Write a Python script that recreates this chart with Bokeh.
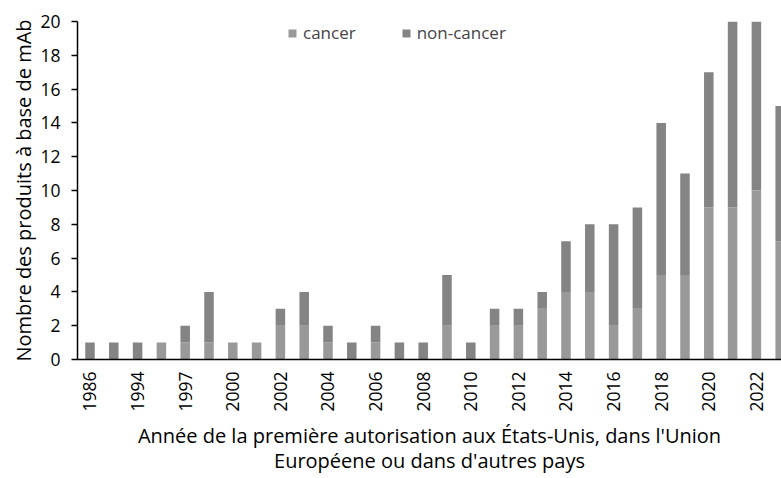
import math
from bokeh.plotting import figure
from bokeh.models import ColumnDataSource, FixedTicker, Range1d, Legend, LegendItem
from bokeh.embed import file_html
from bokeh.resources import INLINE

years = ["1986", "1991", "1994", "1995", "1997", "1998", "2000", "2001", "2002", "2003",
         "2004", "2005", "2006", "2007", "2008", "2009", "2010", "2011", "2012", "2013",
         "2014", "2015", "2016", "2017", "2018", "2019", "2020", "2021", "2022", "2023"]
cancer = [0, 0, 0, 1, 1, 1, 1, 1, 2, 2,
          1, 0, 1, 0, 0, 2, 0, 2, 2, 3,
          4, 4, 2, 3, 5, 5, 9, 9, 10, 7]
non_cancer = [1, 1, 1, 0, 1, 3, 0, 0, 1, 2,
              1, 1, 1, 1, 1, 3, 1, 1, 1, 1,
              3, 4, 6, 6, 9, 6, 8, 11, 10, 8]
shown_labels = {i: y for i, y in enumerate(years) if i % 2 == 0}

FONT = "Open Sans"
C_CANCER = "#999999"
C_NON = "#848484"

idx = list(range(len(years)))
src = ColumnDataSource(dict(x=idx, cancer=cancer, non_cancer=non_cancer))

p = figure(width=781, height=478, output_backend="svg", toolbar_location=None,
           x_range=Range1d(-0.525, 29.055), y_range=Range1d(0, 20),
           min_border_left=77, min_border_right=0, min_border_top=21, min_border_bottom=119)
p.outline_line_color = None
p.xgrid.visible = False
p.ygrid.visible = False

r = p.vbar_stack(["cancer", "non_cancer"], x="x", width=0.4, source=src,
                 color=[C_CANCER, C_NON], line_color=None)

# axes
p.yaxis.ticker = FixedTicker(ticks=list(range(0, 21, 2)))
p.yaxis.minor_tick_line_color = None
p.yaxis.major_tick_out = 6
p.yaxis.major_tick_in = 0
p.yaxis.major_label_standoff = 11
p.yaxis.axis_label = "Nombre des produits à base de mAb"
p.yaxis.axis_label_standoff = 0

p.xaxis.ticker = FixedTicker(ticks=sorted(shown_labels.keys()))
p.xaxis.major_label_overrides = shown_labels
p.xaxis.major_label_orientation = math.pi / 2
p.xaxis.major_tick_out = 0
p.xaxis.major_tick_in = 0
p.xaxis.minor_tick_line_color = None
p.xaxis.major_label_standoff = 12
p.xaxis.axis_label = "Année de la première autorisation aux États-Unis, dans l'Union\nEuropéene ou dans d'autres pays"
p.xaxis.axis_label_standoff = 7
p.xaxis.axis_label_text_line_height = 0.95

for ax in (p.xaxis[0], p.yaxis[0]):
    ax.major_label_text_font = FONT
    ax.major_label_text_font_size = "17.5px"
    ax.major_label_text_color = "#000000"
    ax.axis_label_text_font = FONT
    ax.axis_label_text_font_size = "20px"
    ax.axis_label_text_font_style = "normal"
    ax.axis_label_text_color = "#000000"
    ax.axis_line_color = "black"
    ax.axis_line_width = 1.5
    ax.major_tick_line_color = "black"
    ax.major_tick_line_width = 1.5

legend = Legend(items=[LegendItem(label="cancer", renderers=[r[0]]),
                       LegendItem(label="non-cancer", renderers=[r[1]])],
                orientation="horizontal", location=(210, 315),
                label_text_font=FONT, label_text_font_size="17px",
                glyph_width=10, glyph_height=10, label_standoff=6, spacing=45,
                padding=2, margin=0, border_line_color=None, background_fill_alpha=0)
p.add_layout(legend)

open("out.html", "w").write(file_html(p, INLINE))
